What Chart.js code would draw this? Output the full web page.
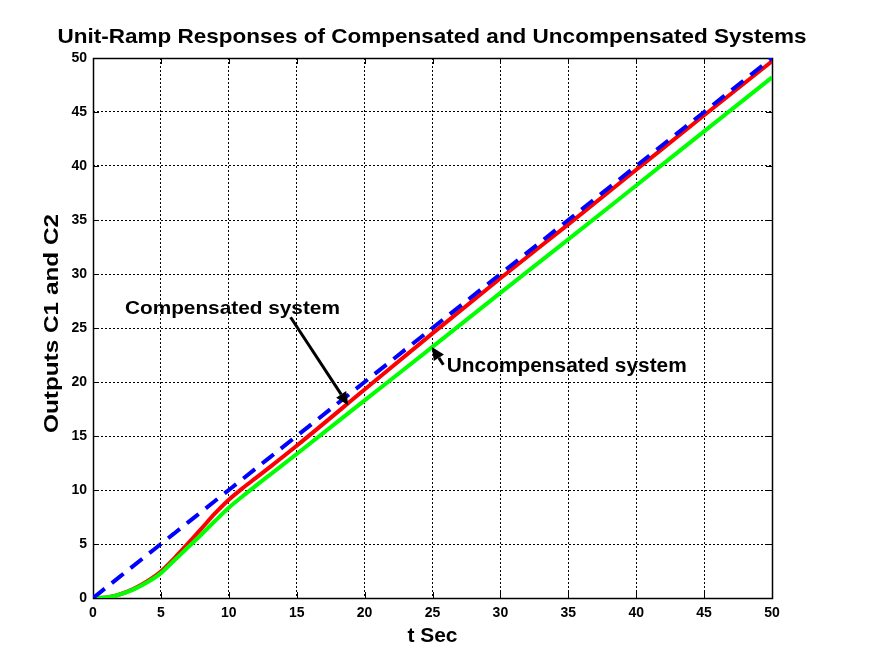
<!DOCTYPE html>
<html>
<head>
<meta charset="utf-8">
<title>Unit-Ramp Responses</title>
<script src="https://cdn.jsdelivr.net/npm/chart.js@4.4.1/dist/chart.umd.min.js"></script>
<style>
	html, body { margin: 0; padding: 0; background: #fff; }
	#wrap { width: 892px; height: 669px; }
</style>
</head>
<body>
<div id="wrap"><canvas id="chart"></canvas></div>
<script>
/************  DATA  ************/
// time axis (seconds)
const tSec = [0, 1, 2, 3, 4, 5, 6, 7, 8, 9, 10, 11, 12, 13, 15, 20, 25, 30, 35, 40, 45, 50];
// unit-ramp input, plotted as the blue dashed line
const rampInput = [0, 1, 2, 3, 4, 5, 6, 7, 8, 9, 10, 11, 12, 13, 15, 20, 25, 30, 35, 40, 45, 50];
// C1: compensated system output (red)
const compensated = [0, 0.05, 0.35, 0.85, 1.55, 2.45, 3.7, 5.05, 6.45, 7.85, 9.1, 10.15, 11.12, 12.1, 14.1, 19.3, 24.5, 29.6, 34.6, 39.65, 44.7, 49.7];
// C2: uncompensated system output (green)
const uncompensated = [0, 0.05, 0.33, 0.8, 1.45, 2.3, 3.5, 4.7, 5.9, 7.15, 8.35, 9.4, 10.4, 11.38, 13.33, 18.3, 23.25, 28.25, 33.2, 38.2, 43.2, 48.2];
// tick labels
const xTicks = [0, 5, 10, 15, 20, 25, 30, 35, 40, 45, 50];
const yTicks = [0, 5, 10, 15, 20, 25, 30, 35, 40, 45, 50];

/************  TEXT  ************/
const chartTitle = 'Unit-Ramp Responses of Compensated and Uncompensated Systems';
const xTitle = 't Sec';
const yTitle = 'Outputs C1 and C2';
const compLabel = 'Compensated system';
const uncompLabel = 'Uncompensated system';

// annotation anchors in data units (t, output)
const compText = { t: 2.35, y: 26.3 };
const compArrow = { from: { t: 14.55, y: 26.0 }, to: { t: 18.8, y: 17.85 } };
const uncompText = { t: 26.05, y: 20.9 };
const uncompArrow = { from: { t: 25.8, y: 21.6 }, to: { t: 24.95, y: 23.25 } };

const FONT = '"Liberation Sans", Arial, Helvetica, sans-serif';

/************  HELPERS  ************/
const toPoints = (xs, ys) => xs.map((x, i) => ({ x: x, y: ys[i] }));

// draw bold text, stretched horizontally to a target width, starting at x
function drawFitted(ctx, text, x, y, size, width) {
	ctx.font = `bold ${size}px ${FONT}`;
	const w = ctx.measureText(text).width;
	ctx.save();
	ctx.translate(x, y);
	ctx.scale(width / w, 1);
	ctx.textAlign = 'left';
	ctx.textBaseline = 'alphabetic';
	ctx.fillText(text, 0, 0);
	ctx.restore();
}

function drawArrow(ctx, x1, y1, x2, y2) {
	const ang = Math.atan2(y2 - y1, x2 - x1);
	const head = 13;
	const half = 6;
	const bx = x2 - head * Math.cos(ang);
	const by = y2 - head * Math.sin(ang);
	ctx.strokeStyle = '#000';
	ctx.fillStyle = '#000';
	ctx.lineWidth = 3;
	ctx.lineCap = 'butt';
	ctx.beginPath();
	ctx.moveTo(x1, y1);
	ctx.lineTo(bx, by);
	ctx.stroke();
	ctx.beginPath();
	ctx.moveTo(x2, y2);
	ctx.lineTo(bx + half * Math.sin(ang), by - half * Math.cos(ang));
	ctx.lineTo(bx - half * Math.sin(ang), by + half * Math.cos(ang));
	ctx.closePath();
	ctx.fill();
}

/************  PLUGINS  ************/
// axes box and inward tick marks, drawn under the curves
const boxPlugin = {
	id: 'box',
	beforeDatasetsDraw(chart) {
		const { ctx, chartArea: a, scales } = chart;
		ctx.save();
		ctx.strokeStyle = '#000';
		ctx.lineWidth = 1;
		ctx.setLineDash([]);
		ctx.beginPath();
		const tl = 6;
		xTicks.forEach(v => {
			const px = Math.round(scales.x.getPixelForValue(v)) + 0.5;
			ctx.moveTo(px, a.bottom); ctx.lineTo(px, a.bottom - tl);
			ctx.moveTo(px, a.top); ctx.lineTo(px, a.top + tl);
		});
		yTicks.forEach(v => {
			const py = Math.round(scales.y.getPixelForValue(v)) + 0.5;
			ctx.moveTo(a.left, py); ctx.lineTo(a.left + tl, py);
			ctx.moveTo(a.right, py); ctx.lineTo(a.right - tl, py);
		});
		ctx.stroke();
		ctx.lineWidth = 1.5;
		ctx.strokeRect(Math.round(a.left) + 0.5, Math.round(a.top) + 0.5,
			Math.round(a.right - a.left), Math.round(a.bottom - a.top));
		ctx.restore();
	},
};

// title, axis titles and the two arrow annotations
const textPlugin = {
	id: 'texts',
	afterDraw(chart) {
		const { ctx, chartArea: a, scales } = chart;
		const px = t => scales.x.getPixelForValue(t);
		const py = y => scales.y.getPixelForValue(y);
		const cx = (a.left + a.right) / 2;
		ctx.save();
		ctx.fillStyle = '#000';

		// chart title
		drawFitted(ctx, chartTitle, cx - 375, 43, 21, 749);

		// x axis title
		drawFitted(ctx, xTitle, cx - 25, 642, 21, 50);

		// y axis title (rotated)
		ctx.save();
		ctx.translate(58, 323);
		ctx.rotate(-Math.PI / 2);
		drawFitted(ctx, yTitle, -110, 0, 21, 219);
		ctx.restore();

		// annotations
		drawFitted(ctx, compLabel, px(compText.t), py(compText.y), 19, 215);
		drawArrow(ctx, px(compArrow.from.t), py(compArrow.from.y), px(compArrow.to.t), py(compArrow.to.y));
		drawFitted(ctx, uncompLabel, px(uncompText.t), py(uncompText.y), 20, 240);
		drawArrow(ctx, px(uncompArrow.from.t), py(uncompArrow.from.y), px(uncompArrow.to.t), py(uncompArrow.to.y));

		ctx.restore();
	},
};

const whiteBg = {
	id: 'whiteBg',
	beforeDraw(chart) {
		const { ctx, width, height } = chart;
		ctx.save();
		ctx.fillStyle = '#fff';
		ctx.fillRect(0, 0, width, height);
		ctx.restore();
	},
};

/************  CHART  ************/
const ctx = document.getElementById('chart').getContext('2d');
const chart = new Chart(ctx, {
	type: 'line',
	data: {
		datasets: [
			{
				label: 'Compensated',
				data: toPoints(tSec, compensated),
				borderColor: '#ff0000',
				borderWidth: 4,
				order: 3,
			},
			{
				label: 'Uncompensated',
				data: toPoints(tSec, uncompensated),
				borderColor: '#00ff00',
				borderWidth: 4,
				order: 2,
			},
			{
				label: 'Unit ramp',
				data: toPoints(tSec, rampInput),
				borderColor: '#0000ff',
				borderWidth: 4,
				borderDash: [15, 9],
				borderCapStyle: 'butt',
				order: 1,
			},
		],
	},
	options: {
		responsive: true,
		maintainAspectRatio: false,
		animation: false,
		devicePixelRatio: 1,
		layout: { padding: { left: 0, top: 58, right: 120, bottom: 0 } },
		elements: {
			point: { radius: 0, hoverRadius: 0 },
			line: { cubicInterpolationMode: 'monotone', fill: false },
		},
		plugins: {
			legend: { display: false },
			title: { display: false },
			tooltip: { enabled: false },
		},
		scales: {
			x: {
				type: 'linear',
				min: 0,
				max: 50,
				afterFit: scale => { scale.height = 71; },
				afterBuildTicks: scale => { scale.ticks = xTicks.map(v => ({ value: v })); },
				grid: { color: '#000', lineWidth: 1, drawTicks: false },
				border: { display: false, dash: [2, 2] },
				ticks: {
					color: '#000',
					padding: 7,
					maxRotation: 0,
					font: { family: FONT, size: 14, weight: 'bold' },
				},
			},
			y: {
				type: 'linear',
				min: 0,
				max: 50,
				afterFit: scale => { scale.width = 93; },
				afterBuildTicks: scale => { scale.ticks = yTicks.map(v => ({ value: v })); },
				grid: { color: '#000', lineWidth: 1, drawTicks: false },
				border: { display: false, dash: [2, 2] },
				ticks: {
					color: '#000',
					padding: 6,
					font: { family: FONT, size: 14, weight: 'bold' },
				},
			},
		},
	},
	plugins: [whiteBg, boxPlugin, textPlugin],
});
</script>
</body>
</html>
